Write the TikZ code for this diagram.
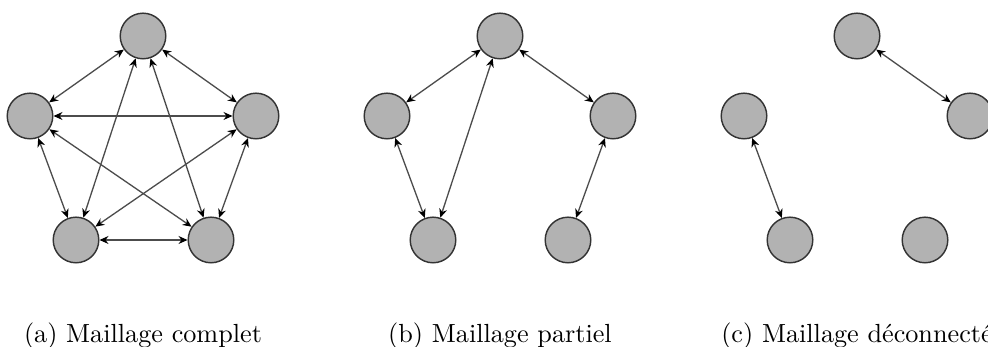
\documentclass[tikz,border=0pt]{standalone}
\usetikzlibrary{arrows.meta}
\begin{document}
\begin{tikzpicture}[x=0.3817pt,y=-0.3817pt,
  host/.style={circle,draw=black!80,line width=0.55pt,fill=black!30,minimum size=17.4pt,inner sep=0pt},
  link/.style={draw=black!70,line width=0.5pt,{Stealth[length=3.4pt,width=3pt,black]}-{Stealth[length=3.4pt,width=3pt,black]}},
  captext/.style={anchor=base,inner sep=0pt,font=\normalsize}]
\clip (0,0) rectangle (988,347);
\useasboundingbox (0,0) rectangle (988,347);
\foreach \p/\dx in {a/0,b/357,c/714}{
  \node[host] (\p1) at (143+\dx,36) {};
  \node[host] (\p2) at (30+\dx,116) {};
  \node[host] (\p3) at (256+\dx,116) {};
  \node[host] (\p4) at (76+\dx,240) {};
  \node[host] (\p5) at (211+\dx,240) {};
}
% (a) complete
\draw[link] (a1) -- (a2);
\draw[link] (a1) -- (a3);
\draw[link] (a1) -- (a4);
\draw[link] (a1) -- (a5);
\draw[link] (a2) -- (a3);
\draw[link] (a2) -- (a4);
\draw[link] (a2) -- (a5);
\draw[link] (a3) -- (a4);
\draw[link] (a3) -- (a5);
\draw[link] (a4) -- (a5);
% (b) partial
\draw[link] (b1) -- (b2);
\draw[link] (b1) -- (b4);
\draw[link] (b1) -- (b3);
\draw[link] (b2) -- (b4);
\draw[link] (b3) -- (b5);
% (c) disconnected
\draw[link] (c1) -- (c3);
\draw[link] (c2) -- (c4);
\node[captext] (la) at (143,343) {(a) Maillage complet};
\node[captext] (lb) at (500,343) {(b) Maillage partiel};
\node[captext] (lc) at (857,343) {(c) Maillage déconnecté};
\end{tikzpicture}
\end{document}
